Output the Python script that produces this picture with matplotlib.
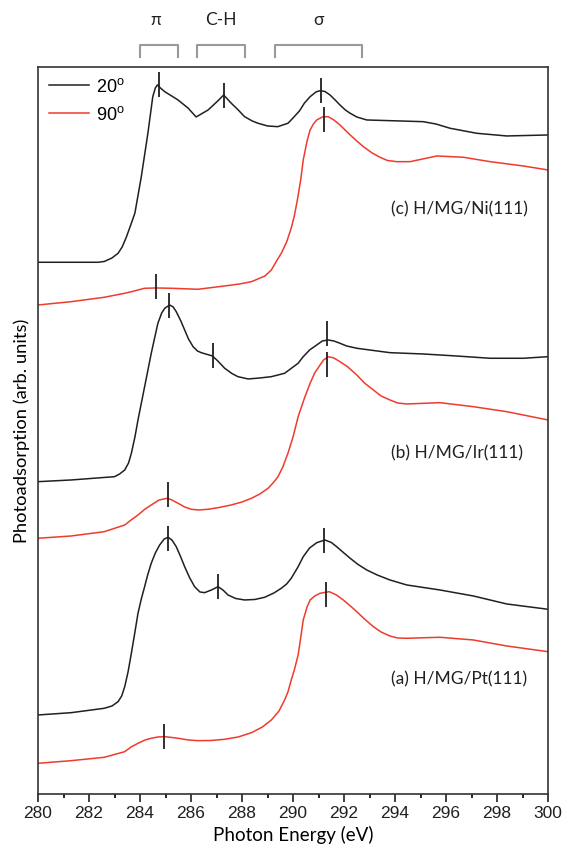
import numpy as np
import matplotlib
matplotlib.use('Agg')
import matplotlib.pyplot as plt

plt.rcParams['font.family'] = ['Liberation Sans', 'DejaVu Sans']

# --- spectra (photon energy in eV, offset signal in arb. units) ---
ni_20_e = [280.0, 282.35, 282.6, 282.9, 283.14, 283.3, 283.47, 283.65, 283.8, 284.05,
           284.31, 284.5, 284.6, 284.68, 284.8, 284.97, 285.49, 285.88, 286.2, 286.67,
           287.06, 287.28, 287.58, 287.85, 288.1, 288.4, 288.63, 289.0, 289.4, 289.8,
           290.0, 290.25, 290.45, 290.67, 290.9, 291.06, 291.25, 291.45, 291.65, 291.84,
           292.05, 292.24, 292.5, 292.89, 293.8, 295.1, 295.6, 296.16, 297.2, 298.38,
           300.0]
ni_20_v = [531.7, 531.7, 532.5, 536, 540.7, 547, 557.3, 570, 581, 617.3,
           661, 697.3, 706, 709, 706, 702.3, 694, 686, 677, 684,
           693.3, 699, 690.7, 684, 677.3, 673, 670.7, 668, 667.3, 670.7,
           676, 683, 691, 697.3, 702, 703.3, 702.5, 699, 694, 689,
           684, 680.7, 677, 674, 673.3, 672.3, 670, 665.7, 660.7, 658,
           659]

ni_90_e = [280.0, 281.3, 282.6, 283.4, 283.7, 283.92, 284.18, 284.64, 285.23, 286.27,
           287.32, 287.9, 288.37, 288.9, 289.15, 289.4, 289.54, 289.75, 289.93, 290.05,
           290.17, 290.3, 290.4, 290.55, 290.67, 290.8, 290.93, 291.15, 291.38, 291.6,
           291.84, 292.24, 292.5, 292.76, 293.1, 293.41, 293.7, 294.07, 294.59, 295.64,
           296.68, 297.73, 299.03, 300.0]
ni_90_v = [489, 492.3, 496.7, 500.7, 502.5, 504, 505.7, 506, 505.7, 504.7,
           508, 510, 512.3, 518, 524, 535, 540.7, 552, 566, 578,
           594, 614, 634, 653, 664, 670, 674, 677, 677.3, 674,
           669, 659, 653, 647.3, 641, 636.7, 633.5, 632.3, 632.3, 638,
           636.7, 632.3, 628, 624]

ir_20_e = [280.0, 281.3, 283.0, 283.2, 283.4, 283.55, 283.66, 283.8, 283.92, 284.18,
           284.44, 284.7, 284.85, 284.97, 285.16, 285.3, 285.42, 285.6, 285.75, 285.9,
           286.08, 286.25, 286.4, 286.84, 287.05, 287.32, 287.6, 287.84, 288.24, 288.7,
           289.15, 289.67, 289.95, 290.2, 290.4, 290.65, 290.93, 291.15, 291.38, 291.6,
           291.84, 292.1, 292.5, 293.8, 295.1, 296.4, 297.73, 299.03, 300.0]
ir_20_v = [312.3, 314, 317.3, 320, 324, 331, 340.7, 357, 374, 407.3,
           440.7, 470.7, 481, 485.7, 489, 487, 482.3, 473, 464, 455,
           447.3, 443, 441.3, 438, 433, 425.7, 420.5, 417.3, 415, 416,
           417.3, 420.7, 426, 430.7, 437.3, 444, 449, 453, 454, 453,
           450.7, 448, 445.7, 441.3, 440, 438, 435.7, 435.7, 437.3]

ir_90_e = [280.0, 281.3, 282.6, 283.4, 283.65, 283.92, 284.2, 284.44, 284.75, 285.07,
           285.25, 285.49, 285.75, 286.01, 286.3, 286.67, 287.1, 287.58, 288.0, 288.37,
           288.7, 289.02, 289.25, 289.41, 289.6, 289.8, 290.0, 290.2, 290.45, 290.67,
           290.85, 291.06, 291.2, 291.38, 291.6, 291.84, 292.15, 292.5, 292.8, 293.15,
           293.45, 293.8, 294.1, 294.46, 295.76, 297.07, 298.38, 300.0]
ir_90_v = [255.7, 258, 262.3, 269, 274, 279, 285, 289, 294, 295.7,
           294, 290.7, 287, 284.7, 284, 284.7, 286.5, 289, 292, 295.7,
           300, 305.7, 312, 317.3, 327, 340.7, 357, 377.3, 396, 410.7,
           421, 429, 434, 437.3, 436, 432.3, 427, 419, 411, 404,
           398, 394, 391, 390, 391.3, 387.3, 382.3, 374]

pt_20_e = [280.0, 281.3, 282.6, 282.9, 283.14, 283.28, 283.4, 283.53, 283.66, 283.8,
           283.92, 284.05, 284.18, 284.3, 284.44, 284.6, 284.77, 284.95, 285.1, 285.25,
           285.42, 285.58, 285.75, 285.95, 286.14, 286.35, 286.53, 286.8, 287.06, 287.25,
           287.45, 287.75, 288.1, 288.5, 288.89, 289.25, 289.54, 289.75, 289.93, 290.2,
           290.4, 290.65, 290.93, 291.25, 291.5, 291.71, 291.95, 292.24, 292.55, 292.89,
           293.3, 293.8, 294.46, 295.76, 297.07, 298.38, 300.0]
pt_20_v = [79, 81.3, 85.7, 88, 92.3, 98, 107.3, 122, 140.7, 162,
           180.7, 195, 207.3, 219, 230.7, 241, 249, 255, 256.7, 254,
           247.3, 238, 227.3, 216, 207.3, 202, 201.3, 204, 207.3, 204,
           199, 195.5, 194, 194.5, 196.7, 201, 205.7, 210, 215.7, 227.3,
           237.3, 246, 251.3, 254, 251.5, 247.3, 242, 235.7, 229.5, 224,
           219, 214, 209, 204, 198, 190, 184.7]

pt_90_e = [280.0, 281.3, 282.6, 283.4, 283.65, 283.92, 284.2, 284.44, 284.7, 284.97,
           285.25, 285.49, 285.9, 286.27, 286.8, 287.32, 287.85, 288.37, 288.8, 289.15,
           289.45, 289.67, 289.8, 289.93, 290.05, 290.2, 290.3, 290.4, 290.55, 290.67,
           290.85, 291.06, 291.42, 291.7, 291.97, 292.25, 292.5, 292.8, 293.15, 293.45,
           293.8, 294.1, 294.46, 295.76, 297.07, 298.38, 300.0]
pt_90_v = [30.7, 33.3, 36.7, 42.3, 47, 50.7, 54, 55.7, 57, 57.3,
           56.5, 55.7, 54, 53.3, 53.5, 54.7, 57, 61.3, 67, 74,
           83, 94, 102, 114, 124, 139, 156, 174, 187, 194,
           198, 200.7, 202.3, 199, 194, 188, 182.3, 175, 167.3, 162,
           158, 156, 155.7, 156.7, 154, 148, 142.3]

# peak markers (energy, centre of the tick)
mark_e = [284.73, 287.28, 291.10, 284.64, 291.22,
          285.14, 286.86, 291.35, 285.09, 291.35,
          285.10, 287.06, 291.23, 284.94, 291.29]
mark_v = [709.8, 698.2, 703.2, 507.7, 674.8,
          488.2, 438.5, 460.0, 299.8, 429.5,
          255.2, 207.3, 253.2, 57.7, 199.8]

# sample labels
sample_names = ['(c) H/MG/Ni(111)', '(b) H/MG/Ir(111)', '(a) H/MG/Pt(111)']
sample_v = [585, 341, 115]

# resonance brackets on top
band_names = ['\u03c0', 'C-H', '\u03c3']
band_lo = [284.0, 286.25, 289.3]
band_hi = [285.5, 288.1, 292.7]
band_mid = [284.6, 287.16, 291.0]

BLACK = '#231f20'
RED = '#ef3b2c'
MYRIAD = ['Lato', 'DejaVu Sans']

fig = plt.figure(figsize=(5.65, 8.52), dpi=100)
ax = fig.add_axes([0.0673, 0.0681, 0.9027, 0.8533])

pairs = [(ni_20_e, ni_20_v, ni_90_e, ni_90_v),
         (ir_20_e, ir_20_v, ir_90_e, ir_90_v),
         (pt_20_e, pt_20_v, pt_90_e, pt_90_v)]
for i, (e20, v20, e90, v90) in enumerate(pairs):
    ax.plot(e20, v20, color=BLACK, lw=1.1, label='20$^\\mathregular{o}$' if i == 0 else None)
    ax.plot(e90, v90, color=RED, lw=1.1, label='90$^\\mathregular{o}$' if i == 0 else None)

mv = np.array(mark_v)
ax.vlines(mark_e, mv - 12.5, mv + 12.5, color=BLACK, lw=1.3)

for name, v in zip(sample_names, sample_v):
    ax.text(293.83, v, name, ha='left', va='center', fontsize=12.5,
            family=MYRIAD, color=BLACK)

# brackets above the frame
for lo, hi, mid, name in zip(band_lo, band_hi, band_mid, band_names):
    ax.plot([lo, lo, hi, hi], [737.4, 749, 749, 737.4], color='#999999',
            lw=1.5, clip_on=False)
    ax.text(mid, 774.2, name, ha='center', va='center', fontsize=12.5,
            family=MYRIAD, color=BLACK)

ax.set_xlim(280, 300)
ax.set_ylim(0, 727)
ax.set_xticks(np.arange(280, 301, 2))
ax.set_xticks(np.arange(281, 300, 2), minor=True)
ax.set_yticks([])
ax.tick_params(axis='x', which='major', direction='out', length=5.5, width=1.2,
               pad=3, labelsize=12.5, colors=BLACK)
ax.tick_params(axis='x', which='minor', direction='out', length=3, width=1.2)
for s in ax.spines.values():
    s.set_linewidth(1.2)
    s.set_color('#333333')

ax.set_xlabel('Photon Energy (eV)', fontsize=13.5, family=MYRIAD, labelpad=4)
ax.set_ylabel('Photoadsorption (arb. units)', fontsize=13.2, family=MYRIAD, labelpad=6)

ax.legend(loc='upper left', frameon=False, prop={'size': 13},
          handlelength=2.2, handletextpad=0.4, labelspacing=0.55,
          borderaxespad=0.3, borderpad=0.3)

fig.savefig('out.png', dpi=100, facecolor='white')
